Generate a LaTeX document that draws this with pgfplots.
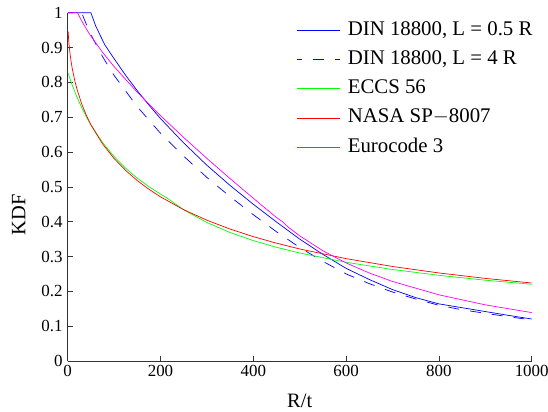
\documentclass[border=0pt]{standalone}
\usepackage{fontspec}
\setmainfont{Liberation Serif}
\usepackage{pgfplots}
\pgfplotsset{compat=1.18}
\definecolor{mblue}{RGB}{0,0,255}
\definecolor{mgreen}{RGB}{0,255,0}
\definecolor{mred}{RGB}{255,0,0}
\definecolor{mmag}{RGB}{255,0,255}
\begin{document}
\begin{tikzpicture}
\useasboundingbox (-67.7bp,-51bp) rectangle (480.3bp,361bp);
\begin{axis}[
  scale only axis, width=464bp, height=348.3bp,
  xmin=0, xmax=1000, ymin=0, ymax=1,
  axis lines*=left, clip=false,
  axis line style={line width=0.6bp, black!80},
  xtick={0,200,400,600,800,1000},
  xticklabels={0,200,400,600,800,1000},
  ytick={0,0.1,0.2,0.3,0.4,0.5,0.6,0.7,0.8,0.9,1},
  yticklabels={0,0.1,0.2,0.3,0.4,0.5,0.6,0.7,0.8,0.9,1},
  tick align=inside, major tick length=5bp,
  tick style={line width=0.6bp, black!80},
  ticklabel style={font=\fontsize{17}{20}\selectfont},
  xticklabel style={anchor=north, inner sep=0pt, yshift=-4bp},
  yticklabel style={anchor=east, inner sep=0pt, xshift=-5bp},
  xlabel={R/t}, ylabel={KDF},
  label style={font=\fontsize{20.5}{24}\selectfont},
  xlabel style={at={(rel axis cs:0.5,0)}, anchor=base, yshift=-46bp},
  ylabel style={at={(rel axis cs:-0.1056,0.42)}, anchor=center},
  legend cell align=left,
  legend style={draw=none, fill=none, at={(rel axis cs:0.494,0.976)}, anchor=north west,
    inner sep=0pt, row sep=11.2bp, column sep=7bp,
    font=\fontsize{20.9}{24}\selectfont,
    nodes={inner sep=0pt, text height=14bp, text depth=4bp}},
  legend image code/.code={\draw[#1] (0bp,0bp) -- (43bp,0bp);},
  every axis plot/.append style={line width=0.7bp},
]
\addplot[mblue] coordinates {
(1,1)(50,1)(60,0.963)(70,0.935)(80,0.908)(100,0.868)(125,0.820)(150,0.776)(175,0.735)
(200,0.696)(250,0.626)(300,0.562)(350,0.504)(400,0.450)(450,0.399)(500,0.350)(550,0.306)
(600,0.266)(650,0.234)(700,0.205)(750,0.182)(800,0.164)(850,0.153)(900,0.142)(950,0.131)(1000,0.1206)};
\addlegendentry{DIN 18800, L = 0.5 R}
\addplot[mblue, dash pattern=on 11bp off 11bp, dash phase=6bp] coordinates {
(1,1)(30,1)(40,0.967)(50,0.937)(75,0.874)(100,0.82)(150,0.730)(200,0.654)(250,0.588)
(300,0.527)(350,0.472)(400,0.42)(450,0.371)(500,0.326)(550,0.286)(600,0.250)(650,0.222)
(700,0.198)(750,0.178)(800,0.160)(850,0.147)(900,0.137)(950,0.127)(1000,0.118)};
\addlegendentry{DIN 18800, L = 4 R}
\addplot[mgreen] coordinates {
(1,0.8259)(2,0.8218)(5,0.8100)(10,0.7914)(20,0.7577)(30,0.7280)(40,0.7015)(50,0.6777)
(75,0.6274)(100,0.5869)(125,0.5533)(150,0.5249)(175,0.5005)(200,0.4792)(212,0.4699)
(250,0.4341)(300,0.3976)(350,0.3689)(400,0.3457)(450,0.3264)(500,0.3100)(600,0.2834)
(700,0.2627)(800,0.2460)(900,0.2320)(1000,0.2203)};
\addlegendentry{ECCS 56}
\addplot[mred] coordinates {
(1,0.9454)(2,0.9238)(3,0.9076)(5,0.8825)(7.5,0.8583)(10,0.8384)(15,0.8063)(20,0.7803)
(30,0.7388)(40,0.7058)(50,0.6782)(75,0.6234)(100,0.5813)(125,0.5470)(150,0.5181)
(175,0.4931)(200,0.4713)(250,0.4344)(300,0.4042)(350,0.3788)(400,0.3571)(450,0.3383)
(500,0.3217)(600,0.2939)(700,0.2714)(800,0.2528)(900,0.2372)(1000,0.2239)};
\addlegendentry{NASA SP$-$8007}
\addplot[mmag] coordinates {
(1,1)(21.2,1)(25,0.9895)(30,0.9768)(40,0.9536)(50,0.9327)(75,0.8864)(100,0.8452)
(150,0.7715)(200,0.7045)(250,0.6417)(300,0.5817)(350,0.5237)(400,0.4673)(425,0.4395)
(450,0.4120)(463,0.4000)(475,0.3846)(500,0.3593)(550,0.3165)(600,0.2816)(650,0.2527)
(700,0.2284)(800,0.1900)(900,0.1612)(1000,0.1390)};
\addlegendentry{Eurocode 3}
\end{axis}
\end{tikzpicture}
\end{document}
